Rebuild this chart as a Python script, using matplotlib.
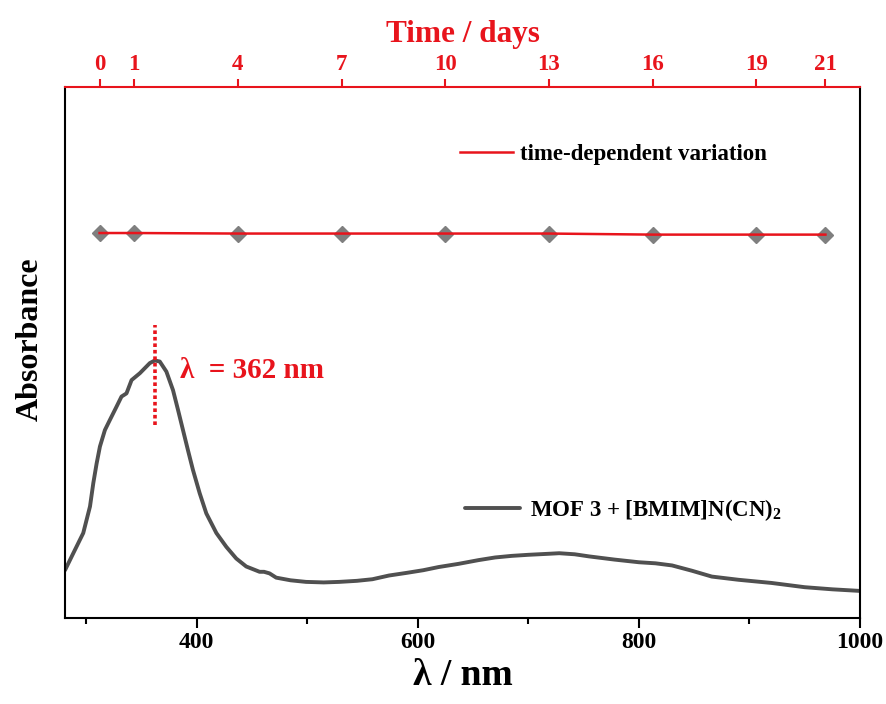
import numpy as np
import matplotlib
matplotlib.use('Agg')
import matplotlib.pyplot as plt

plt.rcParams['font.family'] = ['Liberation Serif', 'DejaVu Serif']
plt.rcParams['mathtext.fontset'] = 'custom'
plt.rcParams['mathtext.rm'] = 'Liberation Serif'
plt.rcParams['mathtext.bf'] = 'Liberation Serif:bold'

# UV-vis spectrum (arbitrary absorbance units)
wavelength = [281, 288.5, 297.5, 303.6, 306.6, 309.6, 312.6, 317.1, 321.6, 327.6,
              332.1, 336.6, 341.2, 348.7, 357.7, 362.2, 366.7, 372.7, 378.7, 383.2,
              387.7, 392.2, 396.7, 402.8, 408.8, 417.9, 426.9, 435.9, 444.9, 457,
              461, 466, 472, 485, 499, 515, 529, 545, 559, 574, 590, 605, 619, 637,
              655, 670, 685, 700, 719, 728, 742, 755, 778, 800, 815, 830, 848, 866,
              890, 920, 950, 975, 1000]
absorbance = [0.090, 0.122, 0.160, 0.210, 0.254, 0.291, 0.323, 0.354, 0.373, 0.398,
              0.417, 0.423, 0.448, 0.461, 0.480, 0.485, 0.483, 0.464, 0.429, 0.392,
              0.354, 0.316, 0.279, 0.235, 0.197, 0.160, 0.134, 0.112, 0.097, 0.087,
              0.087, 0.084, 0.076, 0.071, 0.068, 0.067, 0.068, 0.070, 0.073, 0.080,
              0.085, 0.090, 0.096, 0.102, 0.109, 0.114, 0.117, 0.119, 0.121, 0.122,
              0.120, 0.116, 0.110, 0.105, 0.103, 0.099, 0.089, 0.078, 0.072, 0.066,
              0.058, 0.054, 0.051]

# time-dependent absorbance at the peak
days = [0, 1, 4, 7, 10, 13, 16, 19, 21]
abs_time = [0.725, 0.725, 0.724, 0.724, 0.724, 0.724, 0.722, 0.722, 0.722]

peak_nm = 362

red = '#e8141c'
grey = '#505050'

fig = plt.figure(figsize=(8.87, 7.04), dpi=100)
ax = fig.add_axes([65/887, 1 - 618/704, 795/887, 531/704])

ax.plot(wavelength, absorbance, color=grey, lw=2.8, solid_capstyle='round',
        solid_joinstyle='round', label='MOF 3 + [BMIM]N(CN)$_{\\mathbf{2}}$')
ax.plot([peak_nm, peak_nm], [0.363, 0.552], color=red, lw=2.6, ls=(0, (1, 0.8)))
ax.text(385, 0.466, '\u03bb  = 362 nm', color=red, fontsize=21, fontweight='bold',
        va='center', ha='left')

ax.set_xlim(281, 1000)
ax.set_ylim(0, 1)
ax.set_yticks([])
ax.set_xticks([400, 600, 800, 1000])
ax.set_xticks([300, 500, 700, 900], minor=True)
ax.tick_params(axis='x', which='major', direction='out', length=7, width=1.5,
               labelsize=17, pad=3)
ax.tick_params(axis='x', which='minor', direction='out', length=4, width=1.5)
for lab in ax.get_xticklabels():
    lab.set_fontweight('bold')
ax.set_xlabel('\u03bb / nm', fontsize=27, fontweight='bold', labelpad=4)
ax.set_ylabel('Absorbance', fontsize=23, fontweight='bold')
ax.yaxis.set_label_coords(-0.026, 0.526)
for s in ['left', 'bottom', 'right']:
    ax.spines[s].set_linewidth(1.5)
ax.spines['top'].set_visible(False)

ax.legend(loc='center left', bbox_to_anchor=(0.503, 0.203), frameon=False,
          prop={'weight': 'bold', 'size': 16.5}, handlelength=2.4,
          handletextpad=0.42, borderpad=0, borderaxespad=0)

ax2 = ax.twiny()
ax2.plot(days, abs_time, ls='none', marker='D', ms=8, color='#7f7f7f', zorder=2)
ax2.plot(days, abs_time, color=red, lw=1.8, zorder=3, label='time-dependent variation')
ax2.set_xlim(-1, 22)
ax2.set_xticks(days)
ax2.tick_params(axis='x', direction='out', length=6, width=1.5, colors=red,
                labelsize=16.5, pad=3)
for lab in ax2.get_xticklabels():
    lab.set_fontweight('bold')
ax2.set_xlabel('Time / days', color=red, fontsize=22.5, fontweight='bold', labelpad=8)
ax2.spines['top'].set_color(red)
ax2.spines['top'].set_linewidth(1.5)
for s in ['left', 'bottom', 'right']:
    ax2.spines[s].set_visible(False)

ax2.legend(loc='center left', bbox_to_anchor=(0.497, 0.872), frameon=False,
           prop={'weight': 'bold', 'size': 16.5}, handlelength=2.3,
           handletextpad=0.3, borderpad=0, borderaxespad=0)

fig.savefig('out.png', dpi=100)
